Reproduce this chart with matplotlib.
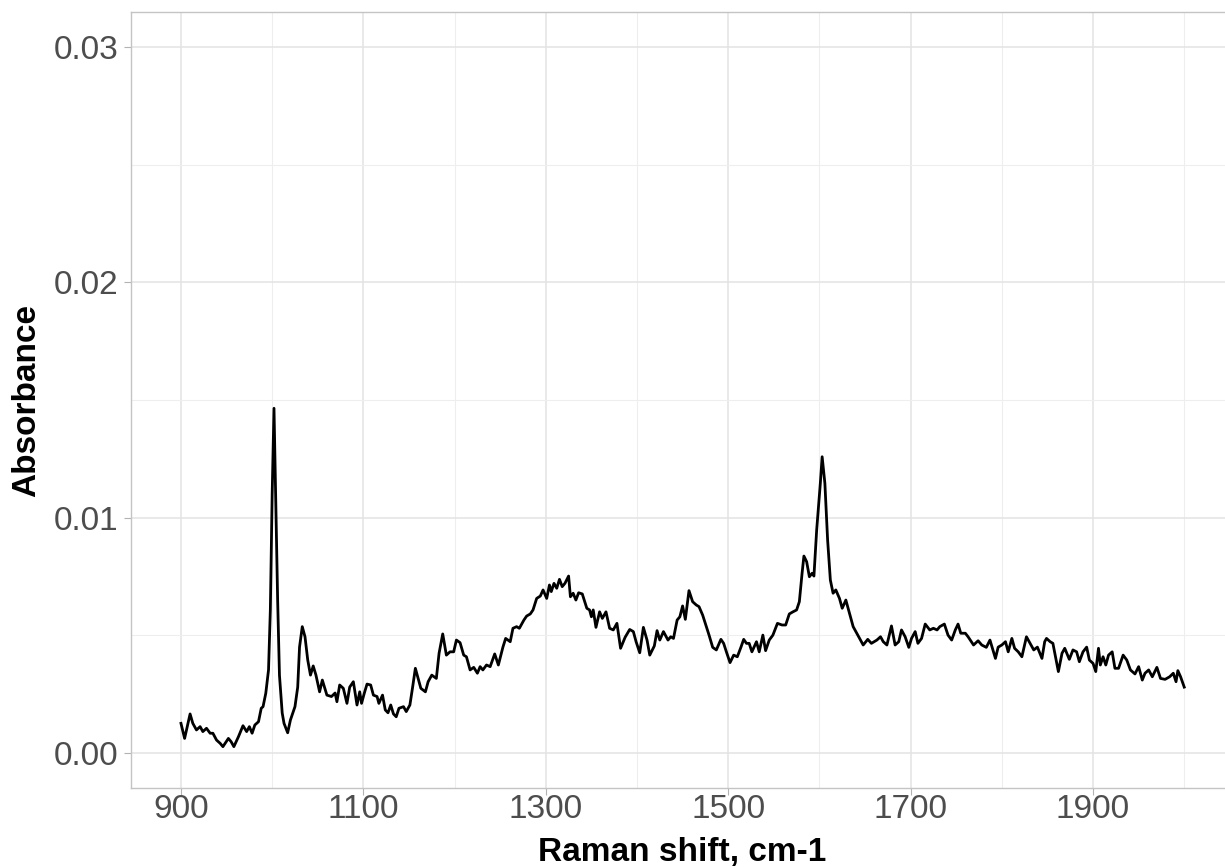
import matplotlib
matplotlib.use("Agg")
import matplotlib.pyplot as plt
from matplotlib.ticker import MultipleLocator

# Raman shift (cm-1)
raman_shift = [
    900, 904, 910, 913, 917, 921, 924, 928, 932, 935, 939, 943, 946, 952, 955, 958,
    963, 968, 972, 975, 978, 981, 985, 988, 990, 993, 996, 998, 1000, 1002, 1004,
    1006, 1008, 1011, 1013, 1017, 1020, 1025, 1028, 1030, 1033, 1036, 1039, 1042,
    1045, 1048, 1052, 1055, 1060, 1065, 1069, 1071, 1074, 1078, 1082, 1085, 1089,
    1093, 1096, 1098, 1101, 1104, 1108, 1111, 1115, 1117, 1121, 1124, 1127, 1130,
    1133, 1136, 1139, 1144, 1147, 1151, 1154, 1157, 1160, 1163, 1168, 1171, 1175,
    1180, 1183, 1187, 1191, 1195, 1199, 1202, 1206, 1210, 1213, 1217, 1221, 1225,
    1228, 1231, 1235, 1239, 1244, 1248, 1253, 1256, 1261, 1264, 1268, 1271, 1274,
    1276, 1279, 1283, 1286, 1290, 1294, 1297, 1301, 1304, 1306, 1309, 1312, 1315,
    1318, 1321, 1325, 1327, 1330, 1333, 1336, 1340, 1345, 1348, 1350, 1352, 1355,
    1359, 1362, 1366, 1370, 1374, 1378, 1382, 1387, 1392, 1396, 1399, 1403, 1407,
    1411, 1414, 1419, 1422, 1425, 1429, 1434, 1437, 1440, 1444, 1447, 1450, 1453,
    1457, 1461, 1465, 1468, 1472, 1476, 1479, 1483, 1487, 1492, 1495, 1498, 1502,
    1506, 1510, 1514, 1517, 1520, 1523, 1526, 1531, 1534, 1538, 1541, 1545, 1549,
    1554, 1559, 1563, 1567, 1571, 1575, 1578, 1581, 1583, 1586, 1589, 1592, 1594,
    1597, 1601, 1603, 1606, 1609, 1612, 1615, 1618, 1622, 1625, 1629, 1633, 1637,
    1643, 1648, 1653, 1657, 1663, 1667, 1670, 1674, 1679, 1683, 1687, 1690, 1694,
    1698, 1701, 1705, 1708, 1712, 1716, 1721, 1725, 1729, 1732, 1737, 1741, 1745,
    1749, 1752, 1755, 1760, 1763, 1769, 1774, 1778, 1783, 1787, 1793, 1796, 1800,
    1804, 1807, 1811, 1814, 1818, 1822, 1827, 1831, 1835, 1839, 1844, 1847, 1849,
    1853, 1856, 1862, 1866, 1869, 1874, 1878, 1882, 1885, 1889, 1893, 1896, 1900,
    1903, 1906, 1908, 1911, 1914, 1917, 1921, 1924, 1928, 1933, 1937, 1941, 1946,
    1950, 1954, 1957, 1961, 1965, 1970, 1974, 1979, 1984, 1988, 1991, 1993, 1996,
    2000,
]

# Absorbance
absorbance = [
    0.00126, 0.00062, 0.00166, 0.00126, 0.00098, 0.00112, 0.00091, 0.00105, 0.00084,
    0.00084, 0.00055, 0.00041, 0.00027, 0.00062, 0.00048, 0.00027, 0.00069, 0.00116,
    0.00091, 0.00112, 0.00084, 0.00119, 0.00133, 0.00190, 0.00197, 0.00254, 0.00353,
    0.00608, 0.01100, 0.01465, 0.01050, 0.00650, 0.00330, 0.00170, 0.00126, 0.00086,
    0.00140, 0.00197, 0.00280, 0.00450, 0.00537, 0.00494, 0.00395, 0.00331, 0.00370,
    0.00331, 0.00260, 0.00310, 0.00246, 0.00240, 0.00255, 0.00218, 0.00289, 0.00275,
    0.00211, 0.00280, 0.00303, 0.00204, 0.00260, 0.00211, 0.00254, 0.00293, 0.00289,
    0.00246, 0.00240, 0.00211, 0.00246, 0.00183, 0.00171, 0.00204, 0.00166, 0.00154,
    0.00190, 0.00197, 0.00176, 0.00204, 0.00280, 0.00360, 0.00317, 0.00275, 0.00260,
    0.00303, 0.00331, 0.00317, 0.00424, 0.00506, 0.00416, 0.00430, 0.00430, 0.00480,
    0.00469, 0.00416, 0.00409, 0.00353, 0.00364, 0.00339, 0.00367, 0.00353, 0.00374,
    0.00367, 0.00421, 0.00374, 0.00450, 0.00487, 0.00473, 0.00530, 0.00537, 0.00530,
    0.00551, 0.00565, 0.00582, 0.00591, 0.00608, 0.00657, 0.00667, 0.00693, 0.00657,
    0.00714, 0.00686, 0.00721, 0.00700, 0.00738, 0.00707, 0.00721, 0.00752, 0.00664,
    0.00679, 0.00650, 0.00681, 0.00676, 0.00615, 0.00608, 0.00579, 0.00608, 0.00534,
    0.00600, 0.00572, 0.00600, 0.00530, 0.00523, 0.00551, 0.00445, 0.00492, 0.00525,
    0.00516, 0.00473, 0.00426, 0.00534, 0.00480, 0.00416, 0.00455, 0.00520, 0.00480,
    0.00516, 0.00480, 0.00494, 0.00487, 0.00565, 0.00579, 0.00625, 0.00568, 0.00690,
    0.00643, 0.00629, 0.00622, 0.00586, 0.00537, 0.00501, 0.00449, 0.00438, 0.00483,
    0.00466, 0.00430, 0.00384, 0.00416, 0.00409, 0.00450, 0.00483, 0.00466, 0.00466,
    0.00430, 0.00473, 0.00430, 0.00501, 0.00435, 0.00480, 0.00501, 0.00551, 0.00544,
    0.00544, 0.00591, 0.00600, 0.00608, 0.00643, 0.00764, 0.00837, 0.00813, 0.00749,
    0.00764, 0.00752, 0.00948, 0.01146, 0.01259, 0.01146, 0.00905, 0.00735, 0.00679,
    0.00693, 0.00657, 0.00615, 0.00650, 0.00593, 0.00537, 0.00494, 0.00459, 0.00483,
    0.00466, 0.00480, 0.00494, 0.00473, 0.00459, 0.00540, 0.00459, 0.00473, 0.00523,
    0.00494, 0.00449, 0.00487, 0.00516, 0.00466, 0.00487, 0.00548, 0.00523, 0.00530,
    0.00523, 0.00537, 0.00548, 0.00501, 0.00480, 0.00523, 0.00548, 0.00509, 0.00509,
    0.00494, 0.00459, 0.00477, 0.00459, 0.00449, 0.00480, 0.00402, 0.00450, 0.00459,
    0.00473, 0.00430, 0.00487, 0.00445, 0.00430, 0.00409, 0.00494, 0.00466, 0.00438,
    0.00450, 0.00402, 0.00473, 0.00487, 0.00473, 0.00466, 0.00346, 0.00424, 0.00445,
    0.00398, 0.00438, 0.00430, 0.00388, 0.00430, 0.00450, 0.00395, 0.00381, 0.00346,
    0.00445, 0.00374, 0.00409, 0.00374, 0.00416, 0.00430, 0.00360, 0.00360, 0.00416,
    0.00395, 0.00353, 0.00336, 0.00367, 0.00310, 0.00339, 0.00353, 0.00324, 0.00364,
    0.00317, 0.00313, 0.00324, 0.00339, 0.00303, 0.00350, 0.00324, 0.00280,
]

x_ticks = [900, 1100, 1300, 1500, 1700, 1900]
y_ticks = [0.00, 0.01, 0.02, 0.03]
y_tick_labels = ["0.00", "0.01", "0.02", "0.03"]
x_title = "Raman shift, cm-1"
y_title = "Absorbance"

plt.rcParams["font.family"] = ["Liberation Sans", "DejaVu Sans"]

W, H = 1225, 867
fig = plt.figure(figsize=(W / 100, H / 100), dpi=100)
# panel in pixels: left 130.8, right 1234.4 (extends past the image), top 11.8, bottom 788.3
ax = fig.add_axes([130.8 / W, (H - 788.3) / H, (1234.4 - 130.8) / W, (788.3 - 11.8) / H])

ax.plot(raman_shift, absorbance, color="black", lw=2.0, solid_joinstyle="round", zorder=3)

ax.set_xlim(845, 2055)
ax.set_ylim(-0.0015, 0.0315)
ax.set_xticks(x_ticks)
ax.set_xticklabels([str(t) for t in x_ticks])
ax.set_yticks(y_ticks)
ax.set_yticklabels(y_tick_labels)
ax.xaxis.set_minor_locator(MultipleLocator(100))
ax.yaxis.set_minor_locator(MultipleLocator(0.005))

ax.grid(which="major", color="#e3e3e3", lw=1.1, zorder=0)
ax.grid(which="minor", color="#eeeeee", lw=0.8, zorder=0)
ax.set_axisbelow(True)

for s in ax.spines.values():
    s.set_color("#c4c4c4")
    s.set_linewidth(1.0)

ax.tick_params(which="major", length=5, width=0.8, color="#b3b3b3",
               labelsize=24, labelcolor="#4d4d4d")
ax.tick_params(axis="x", pad=-1)
ax.tick_params(axis="y", pad=4)
ax.tick_params(which="minor", length=0)

ax.set_xlabel(x_title, fontsize=24, fontweight="bold", color="black", labelpad=9)
ax.set_ylabel(y_title, fontsize=24, fontweight="bold", color="black", labelpad=8)

fig.savefig("out.png", dpi=100)
